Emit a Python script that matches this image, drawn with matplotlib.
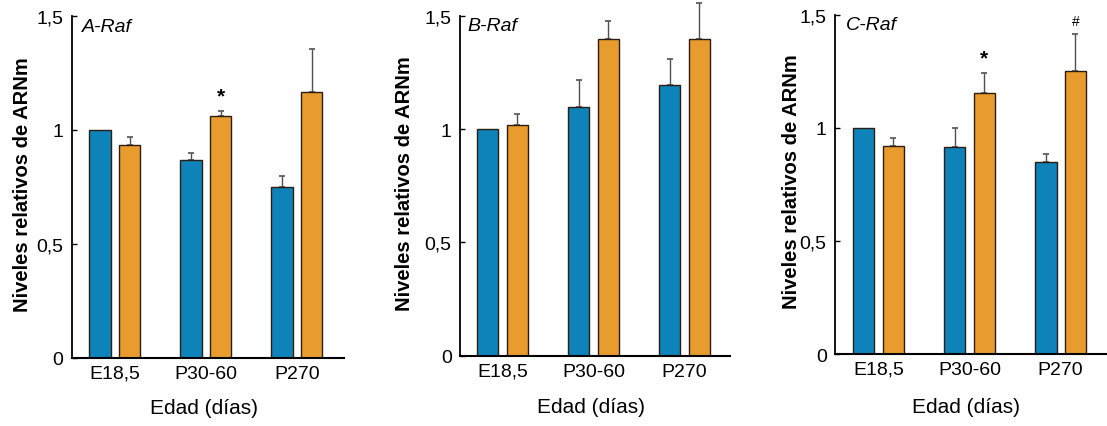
import matplotlib
matplotlib.use("Agg")
import matplotlib.pyplot as plt
import numpy as np

plt.rcParams['font.family'] = ['Liberation Sans', 'DejaVu Sans']

categories = ["E18,5", "P30-60", "P270"]
panels = ["A-Raf", "B-Raf", "C-Raf"]

# blue series (control) and orange series values, upper error bars
blue_A = [1.00, 0.867, 0.751]
blue_A_err = [0.0, 0.031, 0.046]
orange_A = [0.933, 1.060, 1.168]
orange_A_err = [0.035, 0.022, 0.187]
marks_A = ["", "*", ""]

blue_B = [1.00, 1.099, 1.193]
blue_B_err = [0.0, 0.116, 0.114]
orange_B = [1.019, 1.398, 1.398]
orange_B_err = [0.046, 0.079, 0.156]
marks_B = ["", "", ""]

blue_C = [1.00, 0.917, 0.851]
blue_C_err = [0.0, 0.083, 0.033]
orange_C = [0.921, 1.155, 1.251]
orange_C_err = [0.033, 0.088, 0.166]
marks_C = ["", "*", "#"]

yticks = [0, 0.5, 1.0, 1.5]
ytick_labels = ["0", "0,5", "1", "1,5"]

blue = "#0e83ba"
orange = "#e89c2e"
edge = "#2b1d12"
errc = "#505050"

fig = plt.figure(figsize=(11.07, 4.27), dpi=100)

layout = [
    dict(rect=[0.065, 0.1593, 0.246, 0.801], xlim=(-0.47, 2.52), ylab=(-0.147, 0.51), xlab=(0.485, -0.117), tx=0.037),
    dict(rect=[0.4155, 0.1646, 0.2439, 0.7964], xlim=(-0.467, 2.5), ylab=(-0.170, 0.51), xlab=(0.485, -0.121), tx=0.026),
    dict(rect=[0.7543, 0.1686, 0.2457, 0.7944], xlim=(-0.478, 2.51), ylab=(-0.125, 0.51), xlab=(0.48, -0.127), tx=0.04),
]
data = [
    (blue_A, blue_A_err, orange_A, orange_A_err, marks_A),
    (blue_B, blue_B_err, orange_B, orange_B_err, marks_B),
    (blue_C, blue_C_err, orange_C, orange_C_err, marks_C),
]

x = np.arange(len(categories))
w = 0.235
off = 0.162
for name, lay, (b, be, o, oe, mk) in zip(panels, layout, data):
    ax = fig.add_axes(lay["rect"])
    ax.bar(x - off, b, w, color=blue, edgecolor=edge, linewidth=1.0, zorder=2)
    ax.bar(x + off, o, w, color=orange, edgecolor=edge, linewidth=1.0, zorder=2)
    for xs, vals, errs in ((x - off, b, be), (x + off, o, oe)):
        for xi, v, e in zip(xs, vals, errs):
            if e > 0:
                ax.errorbar([xi], [v], yerr=[[0], [e]], fmt="none", ecolor=errc,
                            elinewidth=1.0, capsize=2.5, capthick=1.2, zorder=1, clip_on=False)
    for xi, v, e, m in zip(x + off, o, oe, mk):
        if m:
            ax.annotate(m, (xi, v + e), xytext=(0, 4), textcoords="offset points",
                        ha="center", va="bottom", fontsize=15 if m == "*" else 10,
                        fontweight="bold" if m == "*" else "normal", annotation_clip=False)
    ax.set_ylim(0, 1.5)
    ax.set_xlim(*lay["xlim"])
    ax.set_yticks(yticks)
    ax.set_yticklabels(ytick_labels)
    ax.set_xticks(x)
    ax.set_xticklabels(categories)
    ax.tick_params(axis="y", direction="in", length=3.5, width=1.0, pad=6, labelsize=14)
    ax.tick_params(axis="x", length=0, pad=5, labelsize=14)
    for s in ("top", "right"):
        ax.spines[s].set_visible(False)
    ax.spines["left"].set_linewidth(1.3)
    ax.spines["bottom"].set_linewidth(1.5)
    ax.set_ylabel("Niveles relativos de ARNm", fontsize=14.5, fontweight="bold")
    ax.yaxis.set_label_coords(*lay["ylab"])
    ax.set_xlabel("Edad (días)", fontsize=15)
    ax.xaxis.set_label_coords(*lay["xlab"])
    ax.text(lay["tx"], 0.97, name, transform=ax.transAxes, fontsize=14,
            fontstyle="italic", ha="left", va="center")

fig.savefig("out.png", dpi=100)
